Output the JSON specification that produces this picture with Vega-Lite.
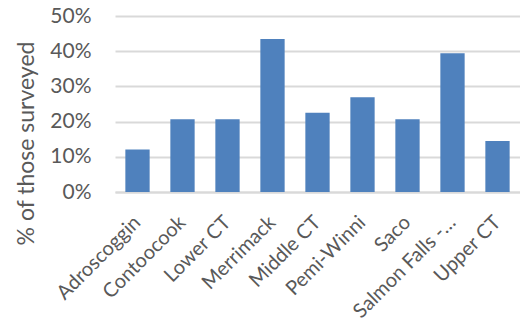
{
  "$schema": "https://vega.github.io/schema/vega-lite/v6.json",
  "autosize": {"type": "none"},
  "padding": {"left": 115, "top": 16, "right": 0, "bottom": 134},
  "width": 405,
  "height": 176,
  "background": "white",
  "config": {
    "view": {"stroke": null},
    "font": "Lato"
  },
  "data": {
    "values": [
      {"region": "Adroscoggin", "pct": 0.121},
      {"region": "Contoocook", "pct": 0.207},
      {"region": "Lower CT", "pct": 0.207},
      {"region": "Merrimack", "pct": 0.435},
      {"region": "Middle CT", "pct": 0.225},
      {"region": "Pemi-Winni", "pct": 0.269},
      {"region": "Saco", "pct": 0.207},
      {"region": "Salmon Falls -…", "pct": 0.394},
      {"region": "Upper CT", "pct": 0.145}
    ]
  },
  "mark": {"type": "bar", "color": "#4F81BD"},
  "encoding": {
    "x": {
      "field": "region",
      "type": "nominal",
      "sort": null,
      "scale": {"paddingInner": 0.46, "paddingOuter": 0.23},
      "axis": {
        "title": null,
        "labelAngle": -45,
        "labelAlign": "right",
        "labelBaseline": "middle",
        "labelFontSize": 20,
        "labelColor": "#595959",
        "labelPadding": 27,
        "ticks": false,
        "domainColor": "#D9D9D9",
        "domainWidth": 2,
        "grid": false
      }
    },
    "y": {
      "field": "pct",
      "type": "quantitative",
      "scale": {"domain": [0, 0.5], "nice": false},
      "axis": {
        "title": "% of those surveyed",
        "titleFontSize": 23,
        "titleFontWeight": "normal",
        "titleColor": "#595959",
        "titleAngle": -90,
        "titleX": -89,
        "titleY": 127,
        "titleAlign": "center",
        "titleBaseline": "middle",
        "format": ".0%",
        "values": [0, 0.1, 0.2, 0.3, 0.4, 0.5],
        "labelFontSize": 21,
        "labelColor": "#595959",
        "labelPadding": 24,
        "ticks": false,
        "domain": false,
        "gridColor": "#D9D9D9",
        "gridWidth": 2
      }
    }
  }
}
